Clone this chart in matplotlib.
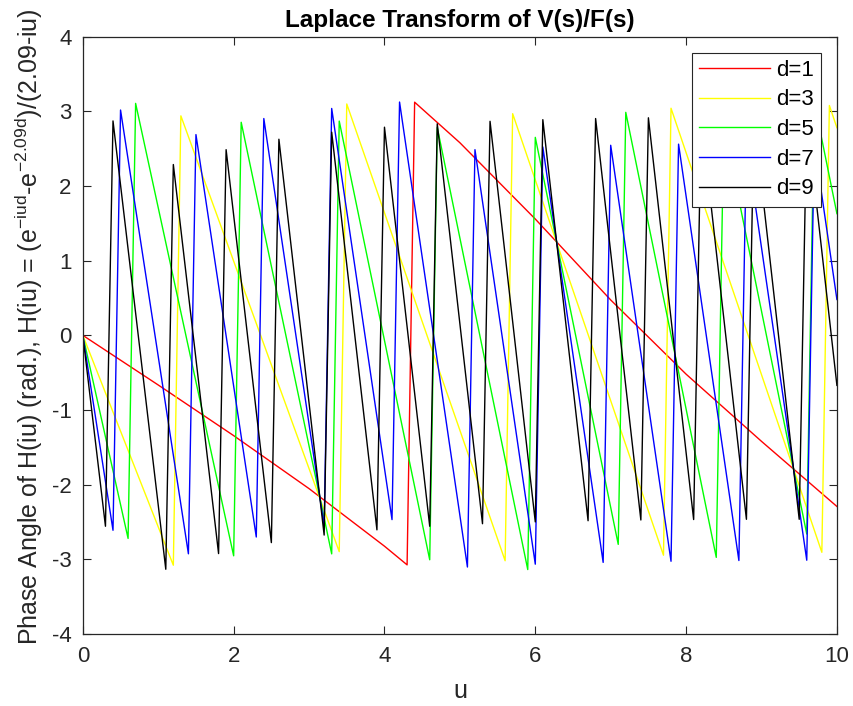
import matplotlib
matplotlib.use("Agg")
import matplotlib.pyplot as plt

plt.rcParams['font.family'] = ['Liberation Sans', 'DejaVu Sans']
plt.rcParams['mathtext.fontset'] = 'custom'
plt.rcParams['mathtext.rm'] = 'Liberation Sans'
plt.rcParams['axes.unicode_minus'] = False

# Vertices (u, phase) of each sawtooth curve
d1_u = [0, 1, 2, 3, 4, 4.3, 4.4, 5, 6, 7, 8, 9, 10]
d1_phase = [0, -0.665, -1.343, -2.053, -2.824, -3.074, 3.123, 2.580, 1.558, 0.474, -0.520, -1.420, -2.292]

d3_u = [0, 1.2, 1.3, 3.4, 3.5, 5.6, 5.7, 7.7, 7.8, 9.8, 9.9, 10]
d3_phase = [0, -3.079, 2.940, -2.897, 3.099, -3.019, 2.969, -2.945, 3.042, -2.906, 3.079, 2.781]

d5_u = [0, 0.6, 0.7, 2.0, 2.1, 3.3, 3.4, 4.6, 4.7, 5.9, 6.0, 7.1, 7.2, 8.4, 8.5, 9.6, 9.7, 10]
d5_phase = [0, -2.720, 3.107, -2.953, 2.854, -2.927, 2.870, -3.006, 2.785, -3.137, 2.652,
            -2.800, 2.987, -2.974, 2.812, -2.661, 3.124, 1.630]

d7_u = [0, 0.4, 0.5, 1.4, 1.5, 2.3, 2.4, 3.2, 3.3, 4.1, 4.2, 5.1, 5.2, 6.0, 6.1, 6.9, 7.0,
        7.8, 7.9, 8.7, 8.8, 9.6, 9.7, 10]
d7_phase = [0, -2.611, 3.018, -2.926, 2.689, -2.701, 2.904, -2.558, 3.039, -2.468, 3.125,
            -3.103, 2.487, -3.065, 2.523, -3.041, 2.546, -3.026, 2.561, -3.016, 2.569,
            -3.012, 2.574, 0.480]

d9_u = [0, 0.3, 0.4, 1.1, 1.2, 1.8, 1.9, 2.5, 2.6, 3.2, 3.3, 3.9, 4.0, 4.6, 4.7, 5.3, 5.4,
        6.0, 6.1, 6.7, 6.8, 7.4, 7.5, 8.1, 8.2, 8.8, 8.9, 9.5, 9.6, 10]
d9_phase = [0, -2.557, 2.872, -3.133, 2.288, -2.923, 2.487, -2.776, 2.627, -2.675, 2.722,
            -2.605, 2.788, -2.557, 2.834, -2.523, 2.867, -2.499, 2.889, -2.483, 2.904,
            -2.473, 2.914, -2.467, 2.919, -2.464, 2.921, -2.464, 2.921, -0.670]

labels = ['d=1', 'd=3', 'd=5', 'd=7', 'd=9']
colors = ['#ff0000', '#ffff00', '#00ff00', '#0000ff', '#000000']
xticks = [0, 2, 4, 6, 8, 10]
yticks = [-4, -3, -2, -1, 0, 1, 2, 3, 4]

fig = plt.figure(figsize=(8.54, 7.06), dpi=100)
ax = fig.add_axes([0.097, 0.102, 0.883, 0.846])

series = [(d1_u, d1_phase), (d3_u, d3_phase), (d5_u, d5_phase), (d7_u, d7_phase), (d9_u, d9_phase)]
for (u, ph), lab, c in zip(series, labels, colors):
    ax.plot(u, ph, color=c, lw=1.0, label=lab)

ax.set_xlim(0, 10)
ax.set_ylim(-4, 4)
ax.set_xticks(xticks)
ax.set_yticks(yticks)
ax.tick_params(direction='in', top=True, right=True, length=5.5, width=0.8,
               labelsize=16, colors='#262626', labelcolor='#262626')
ax.tick_params(axis='x', pad=9)
ax.tick_params(axis='y', pad=8)
for s in ax.spines.values():
    s.set_linewidth(0.9)
    s.set_color('#262626')

ax.set_title('Laplace Transform of V(s)/F(s)', fontsize=17.5, fontweight='bold', pad=7)
ax.set_xlabel('u', fontsize=18, color='#262626')
ax.xaxis.set_label_coords(0.5, -0.075)
ax.set_ylabel(r'Phase Angle of H(iu) (rad.), H(iu) = (e$^{\mathregular{-iud}}$-e$^{\mathregular{-2.09d}}$)/(2.09-iu)',
              fontsize=18, color='#262626')
ax.yaxis.set_label_coords(-0.05, 0.515)

leg = ax.legend(loc='upper right', fontsize=16, handlelength=3.2, labelspacing=0.39,
                fancybox=False, framealpha=1, edgecolor='#262626', borderpad=0.32,
                handletextpad=0.27, borderaxespad=0.72)
leg.get_frame().set_linewidth(0.8)

fig.savefig('out.png', dpi=100)
